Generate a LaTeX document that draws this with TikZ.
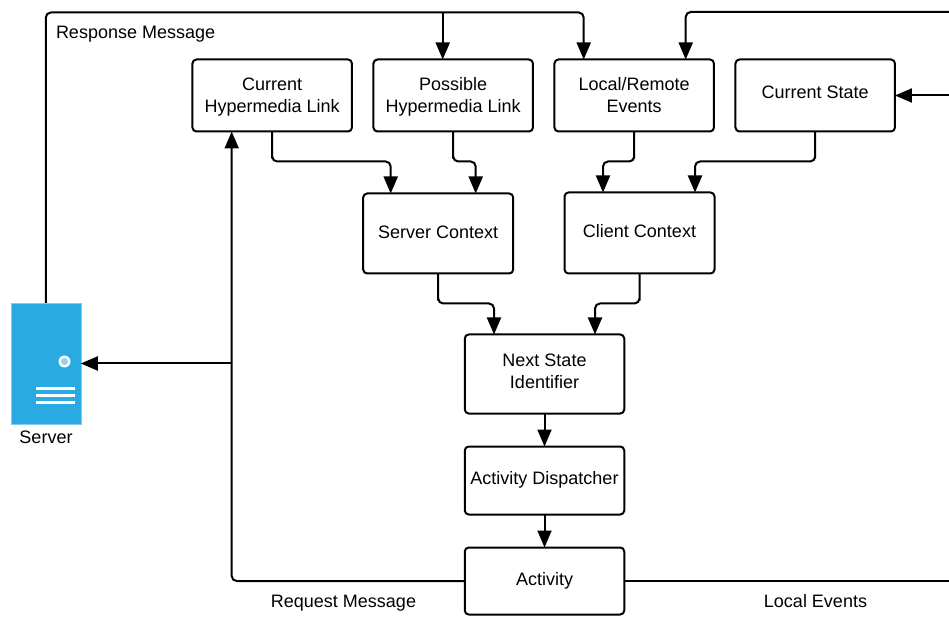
\documentclass[tikz,border=0pt]{standalone}
\usepackage{fontspec}
\setmainfont{Liberation Sans}
\usepackage{tikz}
\usetikzlibrary{arrows.meta,positioning,calc}
\definecolor{serverblue}{HTML}{29ABE2}
\definecolor{ledblue}{HTML}{8FD3F0}
\tikzset{
	box/.style={draw,line width=2pt,rounded corners=4pt,outer sep=0pt,minimum width=159.5pt,align=center,font=\fontsize{18}{22}\selectfont},
	two/.style={box,minimum height=72pt,text height=35pt,text depth=#1},
	one/.style={box,text height=13pt,text depth=#1},
	txt/.style={font=\fontsize{18}{22}\selectfont,inner sep=0pt},
}

\begin{document}
\begin{tikzpicture}[x=1pt,y=1pt,->,>={Triangle[length=17pt,width=14pt]}, line width=2pt, rounded corners=5pt, node distance=181pt]
	\useasboundingbox (0,0) rectangle (949,616);
	\node [two=1pt] (cur) at (272.2,520.5) {Current\\Hypermedia Link};
	\node [two=1pt] (pos) [right of= cur] {Possible\\Hypermedia Link};
	\node [two=1pt] (loc) [right of= pos] {Local/Remote\\Events};
	\node [one=7pt,minimum height=72pt] (state) [right of= loc] {Current State};
	\node [one=3pt,minimum width=150pt,minimum height=80pt] (sctx) at (438.2,382.5) {Server Context};
	\node [one=4pt,minimum width=150pt,minimum height=81pt] (cctx) at (639.5,383) {Client Context};
	\node [two=6pt,minimum height=79pt] (next) at (544.5,242) {Next State\\Identifier};
	\node [one=5pt,minimum height=68pt] (disp) [below of= next,node distance=106.5pt] {Activity Dispatcher};
	\node [one=4pt,minimum height=67pt] (act) [below of= disp,node distance=100.5pt] {Activity};
	\node [fill=serverblue,draw=serverblue!60!white,line width=0.5pt,rounded corners=0pt,outer sep=0pt,minimum width=70pt,minimum height=121pt,inner sep=0pt] (srv) at (45.8,252.5) {};
	\node [txt] (srvlabel) at (46,179) {Server};
	\node [txt,anchor=base west] (resp) at (55,577) {Response Message};
	\node [txt,anchor=base] (req) at (343.5,9) {Request Message};
	\node [txt,anchor=base] (evt) at (815.5,9) {Local Events};
	% server front
	\fill [white,-] (64.5,254.5) circle (6pt);
	\fill [ledblue,-] (64.5,254.5) circle (3.5pt);
	\foreach \y in {214,221,228}
		\draw [-,white,line width=3pt,rounded corners=0pt] (36,\y) -- (75,\y);
	% free ends at the right edge
	\coordinate (rtop) at (949,604);
	\coordinate (rmid) at (949,520.5);
	\coordinate (rbot) at (949,35);
	\coordinate (split) at (232,252.5);
	% top lines
	\draw (srv.north) |- ($(loc.north)+(-50.5,47)$) -- ([xshift=-50.5pt]loc.north);
	\draw [rounded corners=0pt] ($(pos.north)+(-10.5,47)$) -- ([xshift=-10.5pt]pos.north);
	\draw (rtop) -| ([xshift=51.5pt]loc.north);
	\draw (rmid) -- (state.east);
	% contexts
	\draw (cur.south) |- ($(cur.south)+(0,-30)$) -| ([xshift=-47.5pt]sctx.north);
	\draw (pos.south) |- ($(pos.south)+(0,-30)$) -| ([xshift=37.5pt]sctx.north);
	\draw (loc.south) |- ($(loc.south)+(0,-30)$) -| ([xshift=-36.5pt]cctx.north);
	\draw (state.south) |- ($(state.south)+(0,-30)$) -| ([xshift=55.5pt]cctx.north);
	\draw (sctx.south) |- ($(sctx.south)+(0,-30)$) -| ([xshift=-50.5pt]next.north);
	\draw (cctx.south) |- ($(cctx.south)+(0,-30)$) -| ([xshift=50.5pt]next.north);
	\draw (next) -- (disp);
	\draw (disp) -- (act);
	% request message
	\draw (act.west) -| ([xshift=-40.5pt]cur.south);
	\draw (split) -- (srv.east);
	\draw [-] (act.east) -- (rbot);
\end{tikzpicture}
\end{document}
